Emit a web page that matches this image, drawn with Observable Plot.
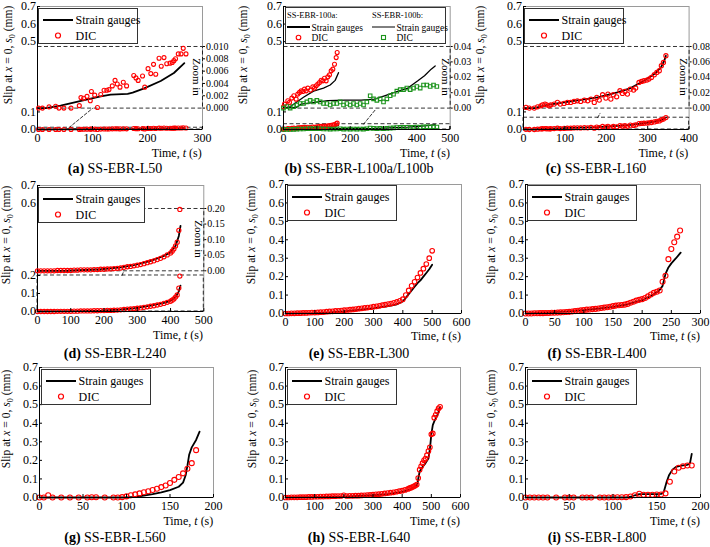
<!DOCTYPE html>
<html>
<head>
<meta charset="utf-8">
<script src="https://cdn.jsdelivr.net/npm/d3@7"></script>
<script src="https://cdn.jsdelivr.net/npm/@observablehq/plot@0.6"></script>
<style>
  html,body{margin:0;padding:0;background:#fff;}
  #root{position:relative;width:710px;height:547px;overflow:hidden;background:#fff;font-family:"Liberation Serif","DejaVu Serif",serif;color:#000;}
  #root > svg{position:absolute;}
  .lbl{position:absolute;white-space:nowrap;line-height:1;}
  .lbl sub{font-size:0.72em;vertical-align:-0.3em;}
</style>
</head>
<body>
<div id="root"></div>
<script>
// ---------------- DATA ----------------
// (a) SS-EBR-L50
const a_sg_t  = [0,15,42,85,115,133,164,173,194,224,248,267];
const a_sg_v  = [0,0,0.0004,0.0013,0.0019,0.0022,0.0023,0.0025,0.0032,0.0044,0.0057,0.0073];
const a_dic_t = [2,9,21,33,39,48,61,76,79,84,90,96,98,104,109,115,121,126,130,136,141,145,150,156,162,175,179,183,191,195,201,206,211,215,221,225,230,235,241,245,248,251,256,261,265,270];
const a_dic_v = [0,0,0.0002,0.0003,0,0,0,0.0004,0.0017,0.0016,0.0019,0.0012,0.0027,0.0021,0.0001,0.0022,0.0029,0.0029,0.0030,0.0036,0.0045,0.0039,0.0034,0.0042,0.0036,0.0053,0.0049,0.0045,0.0052,0.0034,0.0064,0.0056,0.0071,0.0055,0.0081,0.0068,0.0082,0.0072,0.0073,0.0074,0.0077,0.0080,0.0088,0.0088,0.0097,0.0088];

// (b) SS-EBR-L100a / L100b
const b_a_sg_t  = [0,20,40,60,90,120,140,155,165];
const b_a_sg_v  = [0,0.001,0.004,0.007,0.011,0.013,0.015,0.018,0.023];
const b_a_dic_t = [0,3,13,18,25,31,38,43,48,53,58,63,68,73,81,88,93,98,103,108,113,118,123,128,133,138,143,148,153,158,161];
const b_a_dic_v = [0.0009,0.0026,0.0048,0.0037,0.0065,0.0080,0.0058,0.0091,0.0102,0.0112,0.0108,0.0123,0.0112,0.0130,0.0117,0.0138,0.0130,0.0145,0.0156,0.0166,0.0181,0.0177,0.0194,0.0177,0.0203,0.0216,0.0242,0.0253,0.0285,0.0328,0.0361];
const b_b_sg_t  = [0,38,53,93,133,183,233,273,303,333,373,403,423,443,455];
const b_b_sg_v  = [0,0.0004,0.0026,0.0037,0.0048,0.0052,0.0052,0.0058,0.0080,0.0102,0.0130,0.0177,0.0210,0.0253,0.0274];
const b_b_dic_t = [0,10,20,30,40,50,60,70,80,90,100,110,120,130,140,150,160,170,180,190,200,210,220,230,240,250,260,270,280,290,300,310,320,330,340,350,360,370,380,390,400,410,420,430,440,450,460];
const b_b_dic_v = [0,0.001,0,0.001,0.002,0.003,0.003,0.004,0.005,0.004,0.005,0.004,0.003,0.003,0.002,0.003,0.003,0.004,0.002,0.003,0.002,0.003,0.002,0.003,0.002,0.004,0.008,0.006,0.005,0.006,0.004,0.006,0.008,0.009,0.011,0.012,0.012,0.013,0.012,0.013,0.014,0.013,0.015,0.015,0.014,0.015,0.014];

// (c) SS-EBR-L160
const c_sg_t  = [0,26,58,114,179,227,259,291,316,332,340,344];
const c_sg_v  = [0,0,0.0043,0.0087,0.0139,0.0203,0.026,0.0355,0.0442,0.0528,0.0615,0.068];
const c_dic_t = [6,14,26,34,42,46,52,56,62,66,74,82,89,98,106,114,122,130,138,147,155,163,171,177,183,191,199,204,211,217,225,233,239,245,251,258,266,271,279,285,291,298,303,309,316,322,328,333,338,344];
const c_dic_v = [0.0009,0,0,0.0017,0.0030,0.0043,0.0052,0.0043,0.0030,0.0043,0.0052,0.0074,0.0052,0.0061,0.0074,0.0074,0.0087,0.0095,0.0087,0.0104,0.0095,0.0117,0.0074,0.0139,0.0104,0.0173,0.0130,0.0182,0.0117,0.0173,0.0147,0.0225,0.0191,0.0217,0.0182,0.0247,0.0234,0.0260,0.0333,0.0346,0.0355,0.0364,0.0377,0.0398,0.0433,0.0463,0.0485,0.0550,0.0593,0.0680];

// (d) SS-EBR-L240
const d_sg_t  = [0,90,190,250,290,340,380,400,415,425,430];
const d_sg_v  = [0,0.0001,0.005,0.011,0.018,0.032,0.048,0.059,0.080,0.112,0.144];
const d_dic_t = [0,10,20,30,40,50,60,70,80,90,100,110,120,130,140,150,160,170,180,190,200,210,220,230,240,250,260,270,280,290,300,310,320,330,340,350,360,370,380,390,400,405,410,415,420,425,428];
const d_dic_v = [0,0,0,0,0,0,0.001,0.001,0.001,0.001,0.001,0.002,0.002,0.003,0.003,0.003,0.003,0.004,0.004,0.005,0.005,0.006,0.006,0.007,0.008,0.009,0.011,0.013,0.014,0.016,0.018,0.020,0.023,0.026,0.029,0.032,0.036,0.040,0.045,0.051,0.057,0.063,0.070,0.080,0.092,0.130,0.197];

// (e) SS-EBR-L300
const e_sg_t  = [0,100,150,200,250,300,350,380,400,410,420,430,440,450,460,470,480,490,500];
const e_sg_v  = [0,0.002,0.006,0.012,0.020,0.028,0.040,0.050,0.065,0.085,0.105,0.125,0.145,0.165,0.180,0.200,0.220,0.240,0.265];
const e_dic_t = [0,10,20,30,40,50,60,70,80,90,100,110,120,130,140,150,160,170,180,190,200,210,220,230,240,250,260,270,280,290,300,310,320,330,340,350,360,370,380,390,400,410,420,430,440,450,460,470,480,490,500];
const e_dic_v = [0,0,0.001,0.001,0.002,0.002,0.003,0.003,0.004,0.005,0.005,0.006,0.007,0.008,0.010,0.011,0.012,0.014,0.015,0.016,0.018,0.019,0.021,0.022,0.024,0.026,0.028,0.030,0.032,0.034,0.037,0.039,0.042,0.045,0.048,0.051,0.054,0.058,0.063,0.069,0.078,0.100,0.125,0.150,0.172,0.195,0.220,0.243,0.268,0.300,0.340];

// (f) SS-EBR-L400
const f_sg_t  = [0,25,50,75,100,125,150,175,200,215,225,230,235,240,245,250,258,266];
const f_sg_v  = [0,0.003,0.007,0.011,0.018,0.026,0.036,0.050,0.072,0.095,0.115,0.128,0.150,0.215,0.250,0.272,0.300,0.330];
const f_dic_t = [0,5,10,15,20,25,30,35,40,45,50,55,60,65,70,75,80,85,90,95,100,105,110,115,120,125,130,135,140,145,150,155,160,165,170,175,180,185,190,195,200,205,210,215,220,225,230,235,240,245,250,255,260,265];
const f_dic_v = [0,0,0,0.001,0.001,0.002,0.002,0.003,0.003,0.004,0.004,0.005,0.006,0.007,0.008,0.009,0.011,0.013,0.015,0.017,0.019,0.021,0.022,0.024,0.025,0.027,0.030,0.032,0.034,0.037,0.040,0.043,0.045,0.046,0.048,0.052,0.058,0.064,0.070,0.074,0.078,0.084,0.093,0.103,0.112,0.118,0.125,0.172,0.205,0.295,0.350,0.387,0.417,0.450];

// (g) SS-EBR-L560
const g_sg_t  = [0,100,110,120,130,140,150,160,165,168,170,172,175,180,184];
const g_sg_v  = [0,0,0.003,0.010,0.018,0.028,0.040,0.058,0.080,0.120,0.170,0.230,0.270,0.310,0.355];
const g_dic_t = [0,5,10,15,25,35,45,55,60,65,75,85,90,95,100,105,110,115,120,125,130,135,140,145,150,155,160,165,170,175,180];
const g_dic_v = [0,0,0.012,0,0,0,0,0,0.001,0.001,0,0,0,0.002,0.006,0.012,0.017,0.022,0.028,0.034,0.040,0.047,0.056,0.065,0.078,0.095,0.110,0.130,0.155,0.185,0.255];

// (h) SS-EBR-L640
const h_sg_t  = [0,100,200,300,350,400,430,445,452,455,460,470,480,490,495,500,505,510,520,530];
const h_sg_v  = [0,0.002,0.005,0.012,0.018,0.030,0.045,0.058,0.070,0.100,0.140,0.165,0.185,0.210,0.260,0.340,0.390,0.410,0.440,0.485];
const h_dic_t = [0,10,20,30,40,50,60,70,80,90,100,110,120,130,140,150,160,170,180,190,200,210,220,230,240,250,260,270,280,290,300,310,320,330,340,350,360,370,380,390,400,410,420,425,430,435,440,445,450,455,460,465,470,475,480,485,490,495,500,505,510,515,520,525,530];
const h_dic_v = [0,0,0.001,0.001,0.001,0.002,0.002,0.002,0.003,0.003,0.004,0.004,0.005,0.005,0.006,0.006,0.007,0.007,0.008,0.008,0.012,0.008,0.009,0.009,0.010,0.010,0.011,0.012,0.013,0.014,0.015,0.017,0.018,0.020,0.022,0.024,0.026,0.028,0.031,0.034,0.037,0.041,0.046,0.050,0.053,0.056,0.060,0.064,0.070,0.105,0.150,0.168,0.185,0.200,0.210,0.228,0.250,0.270,0.340,0.345,0.430,0.445,0.465,0.480,0.488];

// (i) SS-EBR-L800
const i_sg_t  = [0,115,120,125,130,140,150,155,158,161,164,168,172,178,185,188,190];
const i_sg_v  = [0,0,0.004,0.012,0.018,0.018,0.018,0.019,0.030,0.080,0.120,0.150,0.165,0.172,0.176,0.185,0.235];
const i_dic_t = [0,5,10,15,20,25,35,45,50,55,65,70,75,85,90,95,100,105,110,115,120,125,130,135,140,145,150,155,160,165,170,175,180,185,190];
const i_dic_v = [0,0,0,0,0,0,0,0,0,0,0,0,0,0,0,0,0.001,0.001,0.001,0.002,0.005,0.012,0.020,0.015,0.015,0.015,0.016,0.016,0.022,0.085,0.140,0.160,0.168,0.172,0.172];

// tick labels
const xT300_100 = [0,100,200,300];
const xT400_100 = [0,100,200,300,400];
const xT500_100 = [0,100,200,300,400,500];
const xT600_100 = [0,100,200,300,400,500,600];
const xT300_50  = [0,50,100,150,200,250,300];
const xT200_50  = [0,50,100,150,200];
const yTFull    = [0,0.1,0.2,0.3,0.4,0.5,0.6,0.7];
const yTRow1    = [0,0.1,0.5,0.6,0.7];
const yTD       = [0,0.1,0.2,0.6,0.7];
const zTA = [0,0.002,0.004,0.006,0.008,0.010];
const zTB = [0,0.01,0.02,0.03,0.04];
const zTC = [0,0.02,0.04,0.06,0.08];
const zTD = [0,0.05,0.10,0.15,0.20];

// texts
const legendLabels = ["Strain gauges", "DIC"];
const legendHeadsB = ["SS-EBR-100a:", "SS-EBR-100b:"];
const capLetters = ["(a)","(b)","(c)","(d)","(e)","(f)","(g)","(h)","(i)"];
const capNames = ["SS-EBR-L50","SS-EBR-L100a/L100b","SS-EBR-L160","SS-EBR-L240","SS-EBR-L300","SS-EBR-L400","SS-EBR-L560","SS-EBR-L640","SS-EBR-L800"];
const yTitle = 'Slip at <i>x</i> = 0, <i>s</i><sub>0</sub> (mm)';
const xTitle = 'Time, <i>t</i> (s)';
const zoomTitle = "Zoom in";

// ---------------- LAYOUT / STYLE ----------------
const RED = "#ff0000", GREEN = "#1c941c", BLACK = "#000";
const FONT = '"Liberation Serif", "DejaVu Serif", serif';
const SG = (t, v, w) => ({t, v, kind: "line", w: w || 1.8});
const DIC = (t, v, r, color, symbol) => ({t, v, kind: "dot", r: r || 2.3, color: color || RED, symbol: symbol || "circle"});

const panels = [
  {x0:36.7, x1:201.7, yTop:6, yBot:129, xMax:300, xTicks:xT300_100, yTicks:yTRow1, ylabX:10, capX:115, capY:169, legW:100,
   series:[SG(a_sg_t,a_sg_v), DIC(a_dic_t,a_dic_v,2)],
   inset:{top:45.7, bot:107.3, max:0.010, ticks:zTA, fmt:".3f", box:0.01, conn:{t:[57,100], v:[0.01,0.12]}}},
  {x0:283.3, x1:450, yTop:6, yBot:129, xMax:500, xTicks:xT500_100, yTicks:yTRow1, ylabX:245, capX:359, capY:169, legend:"b",
   series:[SG(b_a_sg_t,b_a_sg_v,1.3), SG(b_b_sg_t,b_b_sg_v,1.3), DIC(b_a_dic_t,b_a_dic_v,2), DIC(b_b_dic_t,b_b_dic_v,2,GREEN,"square")],
   inset:{top:45.7, bot:107.3, max:0.04, ticks:zTB, fmt:".2f", box:0.03, conn:{t:[240,278], v:[0.03,0.118]}}},
  {x0:522.7, x1:688.3, yTop:6, yBot:129, xMax:400, xTicks:xT400_100, yTicks:yTRow1, ylabX:482, capX:596, capY:169, legW:100,
   series:[SG(c_sg_t,c_sg_v), DIC(c_dic_t,c_dic_v,2.1)],
   inset:{top:45.7, bot:107.3, max:0.08, ticks:zTC, fmt:".2f", box:0.067, conn:{t:[179,185], v:[0.067,0.092]}}},
  {x0:36.7, x1:203, yTop:185, yBot:311, xMax:500, xTicks:xT500_100, yTicks:yTD, ylabX:8, capX:115, capY:354, legW:107,
   series:[SG(d_sg_t,d_sg_v), DIC(d_dic_t,d_dic_v,2.1)],
   inset:{top:207.7, bot:270, max:0.20, ticks:zTD, fmt:".2f", box:0.2, conn:{t:[254,259], v:[0.2,0.222]}}},
  {x0:285, x1:461, yTop:183.5, yBot:312.5, xMax:600, xTicks:xT600_100, yTicks:yTFull, ylabX:253, capX:359, capY:354, legW:110,
   series:[SG(e_sg_t,e_sg_v), DIC(e_dic_t,e_dic_v,2.3)]},
  {x0:525, x1:700, yTop:183.5, yBot:312.5, xMax:300, xTicks:xT300_50, yTicks:yTFull, ylabX:493, capX:597, capY:354, legW:110,
   series:[SG(f_sg_t,f_sg_v), DIC(f_dic_t,f_dic_v,2.5)]},
  {x0:39.3, x1:213.3, yTop:367.3, yBot:497.3, xMax:200, xTicks:xT200_50, yTicks:yTFull, ylabX:8, capX:115, capY:537.5, legW:110,
   series:[SG(g_sg_t,g_sg_v), DIC(g_dic_t,g_dic_v,2.5)]},
  {x0:285, x1:460, yTop:367.3, yBot:497.3, xMax:600, xTicks:xT600_100, yTicks:yTFull, ylabX:254, capX:359, capY:537.5, legW:110,
   series:[SG(h_sg_t,h_sg_v), DIC(h_dic_t,h_dic_v,2.3)]},
  {x0:525, x1:700, yTop:367.3, yBot:497.3, xMax:200, xTicks:xT200_50, yTicks:yTFull, ylabX:493, capX:597, capY:537.5, legW:110,
   series:[SG(i_sg_t,i_sg_v), DIC(i_dic_t,i_dic_v,2.5)]}
];

// ---------------- DRAW ----------------
const root = document.getElementById("root");
const fmt1 = d3.format(".1f");
const rows = (t, v) => t.map((x, i) => ({t: x, v: v[i]}));

function place(el, left, top) {
  el.style.position = "absolute";
  el.style.left = left + "px";
  el.style.top = top + "px";
  root.appendChild(el);
}
function label(html, x, y, size, transform) {
  const d = document.createElement("div");
  d.className = "lbl";
  d.innerHTML = html;
  d.style.fontSize = size + "px";
  d.style.transform = transform;
  place(d, x, y);
  return d;
}
function seriesMarks(series) {
  const lines = [], dots = [];
  for (const s of series) {
    const data = rows(s.t, s.v);
    if (s.kind === "line") lines.push(Plot.line(data, {x: "t", y: "v", stroke: BLACK, strokeWidth: s.w}));
    else dots.push(Plot.dot(data, {x: "t", y: "v", stroke: s.color, fill: "none", r: s.r, strokeWidth: 1.1, symbol: s.symbol}));
  }
  return [...lines, ...dots];
}
const baseStyle = {fontFamily: FONT, fontSize: "12px", background: "none", overflow: "visible", color: "#000"};

function mainPlot(p) {
  const mL = 42, mR = 22, mT = 10, mB = 30;
  const w = p.x1 - p.x0, h = p.yBot - p.yTop;
  const marks = [Plot.frame({stroke: "#9a9a9a", strokeWidth: 1})];
  if (p.inset) {
    const I = p.inset;
    marks.push(Plot.rect([I.box], {x1: () => 0, x2: () => p.xMax, y1: () => 0, y2: d => d, fill: "none", stroke: BLACK, strokeWidth: 0.8, strokeDasharray: "4,2.5"}));
    marks.push(Plot.line(rows(I.conn.t, I.conn.v), {x: "t", y: "v", stroke: BLACK, strokeWidth: 0.8, strokeDasharray: "3,2"}));
  }
  marks.push(...seriesMarks(p.series));
  marks.push(Plot.ruleX([0], {stroke: BLACK}), Plot.ruleY([0], {stroke: BLACK}));
  marks.push(Plot.axisX({ticks: p.xTicks, tickFormat: d => String(d), tickSize: -3, tickPadding: 6.5, label: null}));
  marks.push(Plot.axisY({ticks: p.yTicks, tickFormat: fmt1, tickSize: -3, tickPadding: 4.5, label: null}));
  const svg = Plot.plot({
    width: w + mL + mR, height: h + mT + mB,
    marginLeft: mL, marginRight: mR, marginTop: mT, marginBottom: mB,
    x: {domain: [0, p.xMax]}, y: {domain: [0, 0.7]},
    style: baseStyle, marks
  });
  place(svg, p.x0 - mL, p.yTop - mT);
}

function insetPlot(p) {
  const I = p.inset, mL = 42, mR = 8, mT = 6, mB = 6;
  const w = p.x1 - p.x0, h = I.bot - I.top;
  const svg = Plot.plot({
    width: w + mL + mR, height: h + mT + mB,
    marginLeft: mL, marginRight: mR, marginTop: mT, marginBottom: mB,
    x: {domain: [0, p.xMax], axis: null}, y: {domain: [0, I.max], axis: null},
    style: {...baseStyle, fontSize: "10px"},
    marks: [
      Plot.frame({stroke: BLACK, strokeWidth: 0.8, strokeDasharray: "4,2.5"}),
      ...seriesMarks(p.series),
      Plot.axisY({anchor: "right", ticks: I.ticks, tickFormat: d3.format(I.fmt), tickSize: 2, tickPadding: 1.5, label: null})
    ]
  });
  place(svg, p.x0 - mL, I.top - mT);
  label(zoomTitle, p.x1 - 5.5, (I.top + I.bot) / 2, 11, "translate(-50%,-50%) rotate(90deg)");
}

function svgEl(w, h, left, top) {
  const s = d3.create("svg").attr("width", w).attr("height", h)
    .style("font-family", FONT).style("overflow", "visible");
  s.append("rect").attr("x", 0.5).attr("y", 0.5).attr("width", w - 1).attr("height", h - 1)
    .attr("fill", "#fff").attr("stroke", "#333").attr("stroke-width", 1);
  place(s.node(), left, top);
  return s;
}
function legendStd(p) {
  const s = svgEl(p.legW, 36, p.x0 + 1.7, p.yTop + 1.5);
  s.append("line").attr("x1", 5).attr("x2", 35).attr("y1", 12).attr("y2", 12).attr("stroke", BLACK).attr("stroke-width", 2);
  s.append("text").attr("x", 37.5).attr("y", 16).attr("font-size", 12).text(legendLabels[0]);
  s.append("circle").attr("cx", 20).attr("cy", 27.5).attr("r", 2.5).attr("fill", "none").attr("stroke", RED).attr("stroke-width", 1.2);
  s.append("text").attr("x", 37.5).attr("y", 31.5).attr("font-size", 12).text(legendLabels[1]);
}
function legendB(p) {
  const s = svgEl(161, 37, p.x0 + 1.7, p.yTop + 1);
  const cols = [{x: 2, w: 2, mark: "circle", color: RED}, {x: 87, w: 1, mark: "square", color: GREEN}];
  cols.forEach((c, k) => {
    s.append("text").attr("x", c.x).attr("y", 11).attr("font-size", 8.5).text(legendHeadsB[k]);
    s.append("line").attr("x1", c.x).attr("x2", c.x + 23).attr("y1", 20).attr("y2", 20).attr("stroke", BLACK).attr("stroke-width", c.w);
    s.append("text").attr("x", c.x + 24.5).attr("y", 23.5).attr("font-size", 9.5).text(legendLabels[0]);
    if (c.mark === "circle")
      s.append("circle").attr("cx", c.x + 11.5).attr("cy", 30.5).attr("r", 2.3).attr("fill", "none").attr("stroke", c.color).attr("stroke-width", 1.1);
    else
      s.append("rect").attr("x", c.x + 9.5).attr("y", 28.5).attr("width", 4).attr("height", 4).attr("fill", "none").attr("stroke", c.color).attr("stroke-width", 1.1);
    s.append("text").attr("x", c.x + 24.5).attr("y", 34).attr("font-size", 9.5).text(legendLabels[1]);
  });
}

panels.forEach((p, k) => {
  mainPlot(p);
  if (p.inset) insetPlot(p);
  if (p.legend === "b") legendB(p); else legendStd(p);
  const cy = (p.yTop + p.yBot) / 2 - 13;
  label(yTitle, p.ylabX, cy, 11.5, "translate(-50%,-50%) rotate(-90deg)");
  label(xTitle, p.x1, p.yBot + 23.5, 12, "translate(-100%,-50%)");
  label('<b>' + capLetters[k] + '</b> ' + capNames[k], p.capX, p.capY, 14, "translate(-50%,-50%)");
});
</script>
</body>
</html>
